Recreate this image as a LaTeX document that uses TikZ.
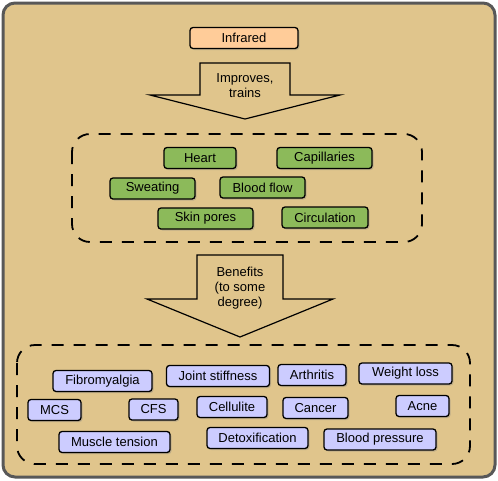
\documentclass[tikz,border=0pt]{standalone}
\usepackage{fontspec}
\setmainfont{Liberation Sans}
\usetikzlibrary{shadows}
\definecolor{tanbg}{RGB}{224,197,140}
\definecolor{framegray}{RGB}{88,88,88}
\definecolor{peach}{RGB}{255,204,153}
\definecolor{leafgreen}{RGB}{140,186,90}
\definecolor{lilac}{RGB}{204,204,255}

\begin{document}
\begin{tikzpicture}[
    x=1pt, y=-1pt, every node/.style={font=\fontsize{13}{15}\selectfont},
    tag/.style={rectangle, draw, line width=1.3pt, rounded corners=3pt, minimum height=21pt, inner sep=0pt,
        drop shadow={shadow xshift=1.5pt, shadow yshift=-1.5pt, opacity=0.35}},
    organ/.style={tag, fill=leafgreen},
    benefit/.style={tag, fill=lilac},
    group/.style={draw, line width=1.8pt, rounded corners=18pt, dash pattern=on 12pt off 10pt},
    bigarrow/.style={draw, line width=1.2pt, line join=miter}
]
\useasboundingbox (0,0) rectangle (498,480);
\draw[line width=3pt, draw=framegray, fill=tanbg, rounded corners=12pt] (3,3) rectangle (495,477);

\node[tag, fill=peach, minimum width=108pt] (infrared) at (244,38) {Infrared};

% first block arrow
\draw[bigarrow] (200,63) -- (290,63) -- (290,95) -- (340,95) -- (245,119) -- (150,95) -- (200,95) -- cycle;
\node[align=center] (improves) at (245,86) {Improves,\\trains};

\draw[group] (72,134) rectangle (422,242);
\node[organ, minimum width=72pt] (heart) at (200,158) {Heart};
\node[organ, minimum width=95pt] (capillaries) at (324.5,158) {Capillaries};
\node[organ, minimum width=85pt] (sweating) at (152.5,188.5) {Sweating};
\node[organ, minimum width=85pt] (bloodflow) at (262.5,187.5) {Blood flow};
\node[organ, minimum width=95pt] (skinpores) at (205.5,218.5) {Skin pores};
\node[organ, minimum width=86pt] (circulation) at (325,217.5) {Circulation};

% second block arrow
\draw[bigarrow] (197,255) -- (283,255) -- (283,299) -- (333,299) -- (240,337) -- (147,299) -- (197,299) -- cycle;
\node[align=center] (benefits) at (240,288) {Benefits\\(to some\\degree)};

\draw[group] (17,345) rectangle (470,464);
\node[benefit, minimum width=99pt] (fibro) at (102.5,381) {Fibromyalgia};
\node[benefit, minimum width=103pt] (joint) at (218,376) {Joint stiffness};
\node[benefit, minimum width=68pt] (arthritis) at (312,375) {Arthritis};
\node[benefit, minimum width=93pt] (weight) at (405.5,373.5) {Weight loss};
\node[benefit, minimum width=53pt] (mcs) at (54.5,410) {MCS};
\node[benefit, minimum width=49pt] (cfs) at (153.5,409.5) {CFS};
\node[benefit, minimum width=70pt] (cellulite) at (232,407) {Cellulite};
\node[benefit, minimum width=65pt] (cancer) at (315.5,408) {Cancer};
\node[benefit, minimum width=53pt] (acne) at (422.5,406) {Acne};
\node[benefit, minimum width=111pt] (muscle) at (114.5,442) {Muscle tension};
\node[benefit, minimum width=101pt] (detox) at (257.5,438) {Detoxification};
\node[benefit, minimum width=112pt] (pressure) at (380,439.5) {Blood pressure};
\end{tikzpicture}
\end{document}
